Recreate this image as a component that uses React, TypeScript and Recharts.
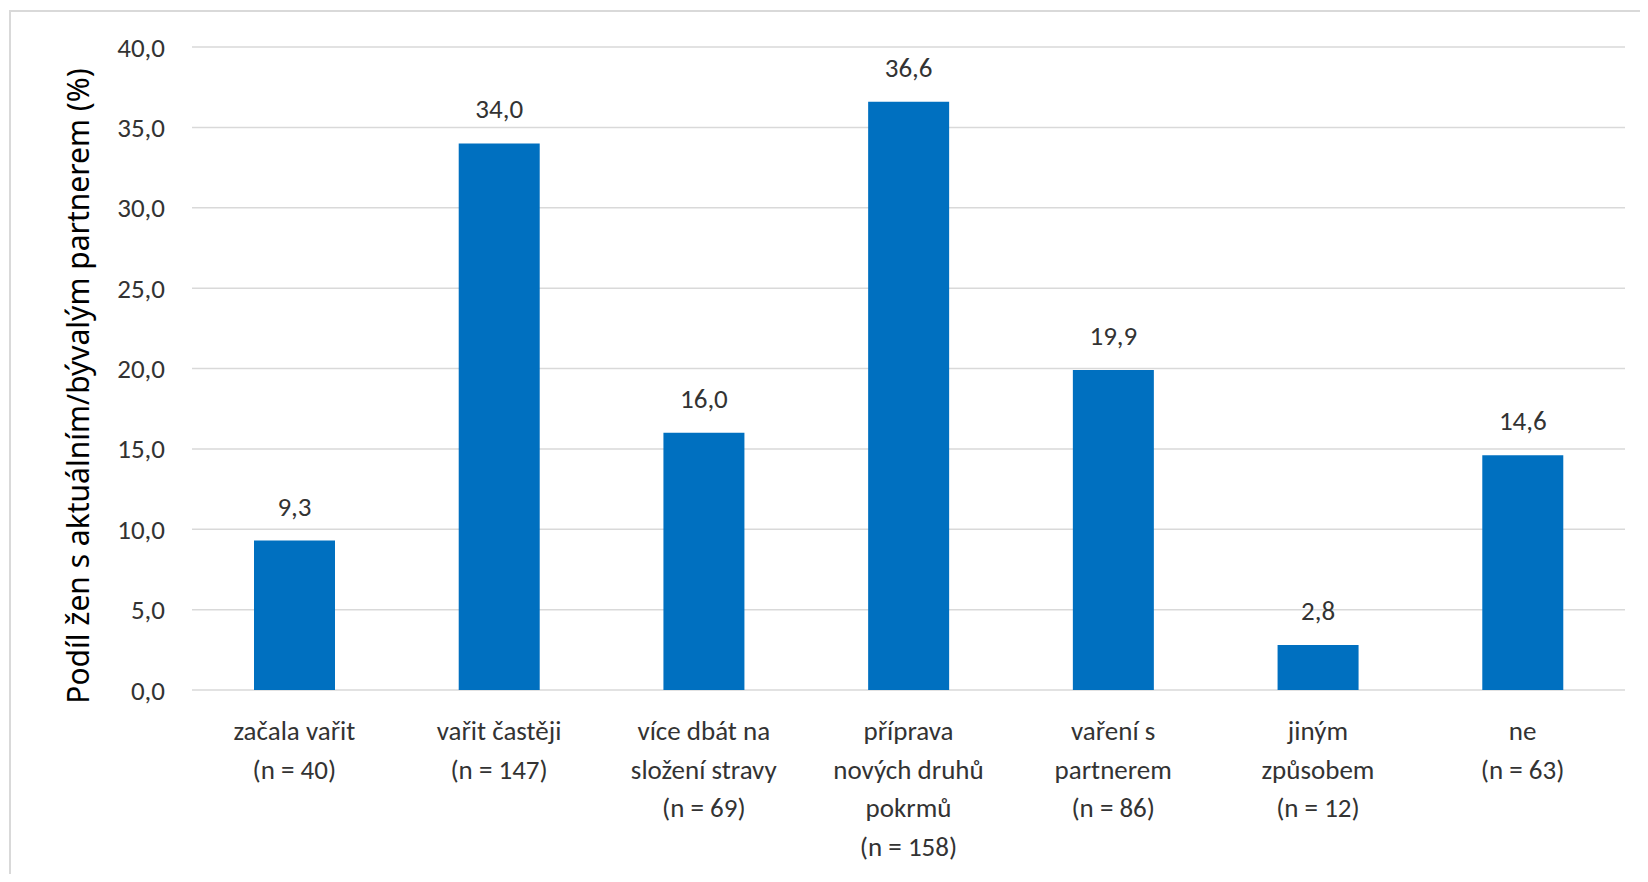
import { Bar, BarChart, CartesianGrid, LabelList, XAxis, YAxis } from "recharts";

const categories: Array<string> = [
  "začala vařit\n(n = 40)",
  "vařit častěji\n(n = 147)",
  "více dbát na\nsložení stravy\n(n = 69)",
  "příprava\nnových druhů\npokrmů\n(n = 158)",
  "vaření s\npartnerem\n(n = 86)",
  "jiným\nzpůsobem\n(n = 12)",
  "ne\n(n = 63)",
];

const shares: Array<number> = [9.3, 34.0, 16.0, 36.6, 19.9, 2.8, 14.6];

const yTicks: Array<number> = [0, 5, 10, 15, 20, 25, 30, 35, 40];

const yTitle = "Podíl žen s aktuálním/bývalým partnerem (%)";

const data = categories.map((name, i) => ({ name, share: shares[i] }));

const FONT = "Carlito, 'Liberation Sans Narrow', 'DejaVu Sans Condensed', 'Open Sans', sans-serif";
const TITLE_FONT = "'Noto Sans', 'Open Sans', sans-serif";
const TEXT = "#333333";

const fmt = (v: any) => Number(v).toFixed(1).replace(".", ",");

function CategoryTick(props: any) {
  const { x, y, payload } = props;
  const lines: Array<string> = String(payload.value).split("\n");
  return (
    <text x={x} y={y + 42} textAnchor="middle" fill={TEXT} fontFamily={FONT} fontSize={27}>
      {lines.map((line, i) => (
        <tspan key={i} x={x} dy={i === 0 ? 0 : 38.7}>
          {line}
        </tspan>
      ))}
    </text>
  );
}

export default function App() {
  return (
    <div
      style={{
        marginLeft: 1,
        marginTop: 2,
        borderLeft: "2px solid #d9d9d9",
        borderTop: "2px solid #d9d9d9",
        width: 1639,
        height: 862,
        overflow: "hidden",
        background: "#fff",
      }}
    >
      <BarChart
        width={1638}
        height={870}
        data={data}
        margin={{ top: 35, right: 24, bottom: 12, left: 71 }}
      >
        <CartesianGrid vertical={false} stroke="#d9d9d9" strokeWidth={1.5} />
        <XAxis
          dataKey="name"
          interval={0}
          height={180}
          axisLine={false}
          tickLine={false}
          tick={<CategoryTick />}
        />
        <YAxis
          width={110}
          domain={[0, 40]}
          ticks={yTicks}
          axisLine={false}
          tickLine={false}
          tickSize={0}
          tickMargin={27}
          tickFormatter={fmt}
          tick={{ fill: TEXT, fontFamily: FONT, fontSize: 27 }}
          label={{
            content: () => (
              <text
                x={66}
                y={374}
                transform="rotate(-90 66 374)"
                textAnchor="middle"
                dominantBaseline="central"
                fill="#000"
                fontFamily={TITLE_FONT}
                fontSize={30}
              >
                {yTitle}
              </text>
            ),
          }}
        />
        <Bar dataKey="share" fill="#0070C0" barSize={81} isAnimationActive={false}>
          <LabelList
            dataKey="share"
            position="top"
            offset={25}
            formatter={fmt}
            fill={TEXT}
            fontFamily={FONT}
            fontSize={27}
          />
        </Bar>
      </BarChart>
    </div>
  );
}
